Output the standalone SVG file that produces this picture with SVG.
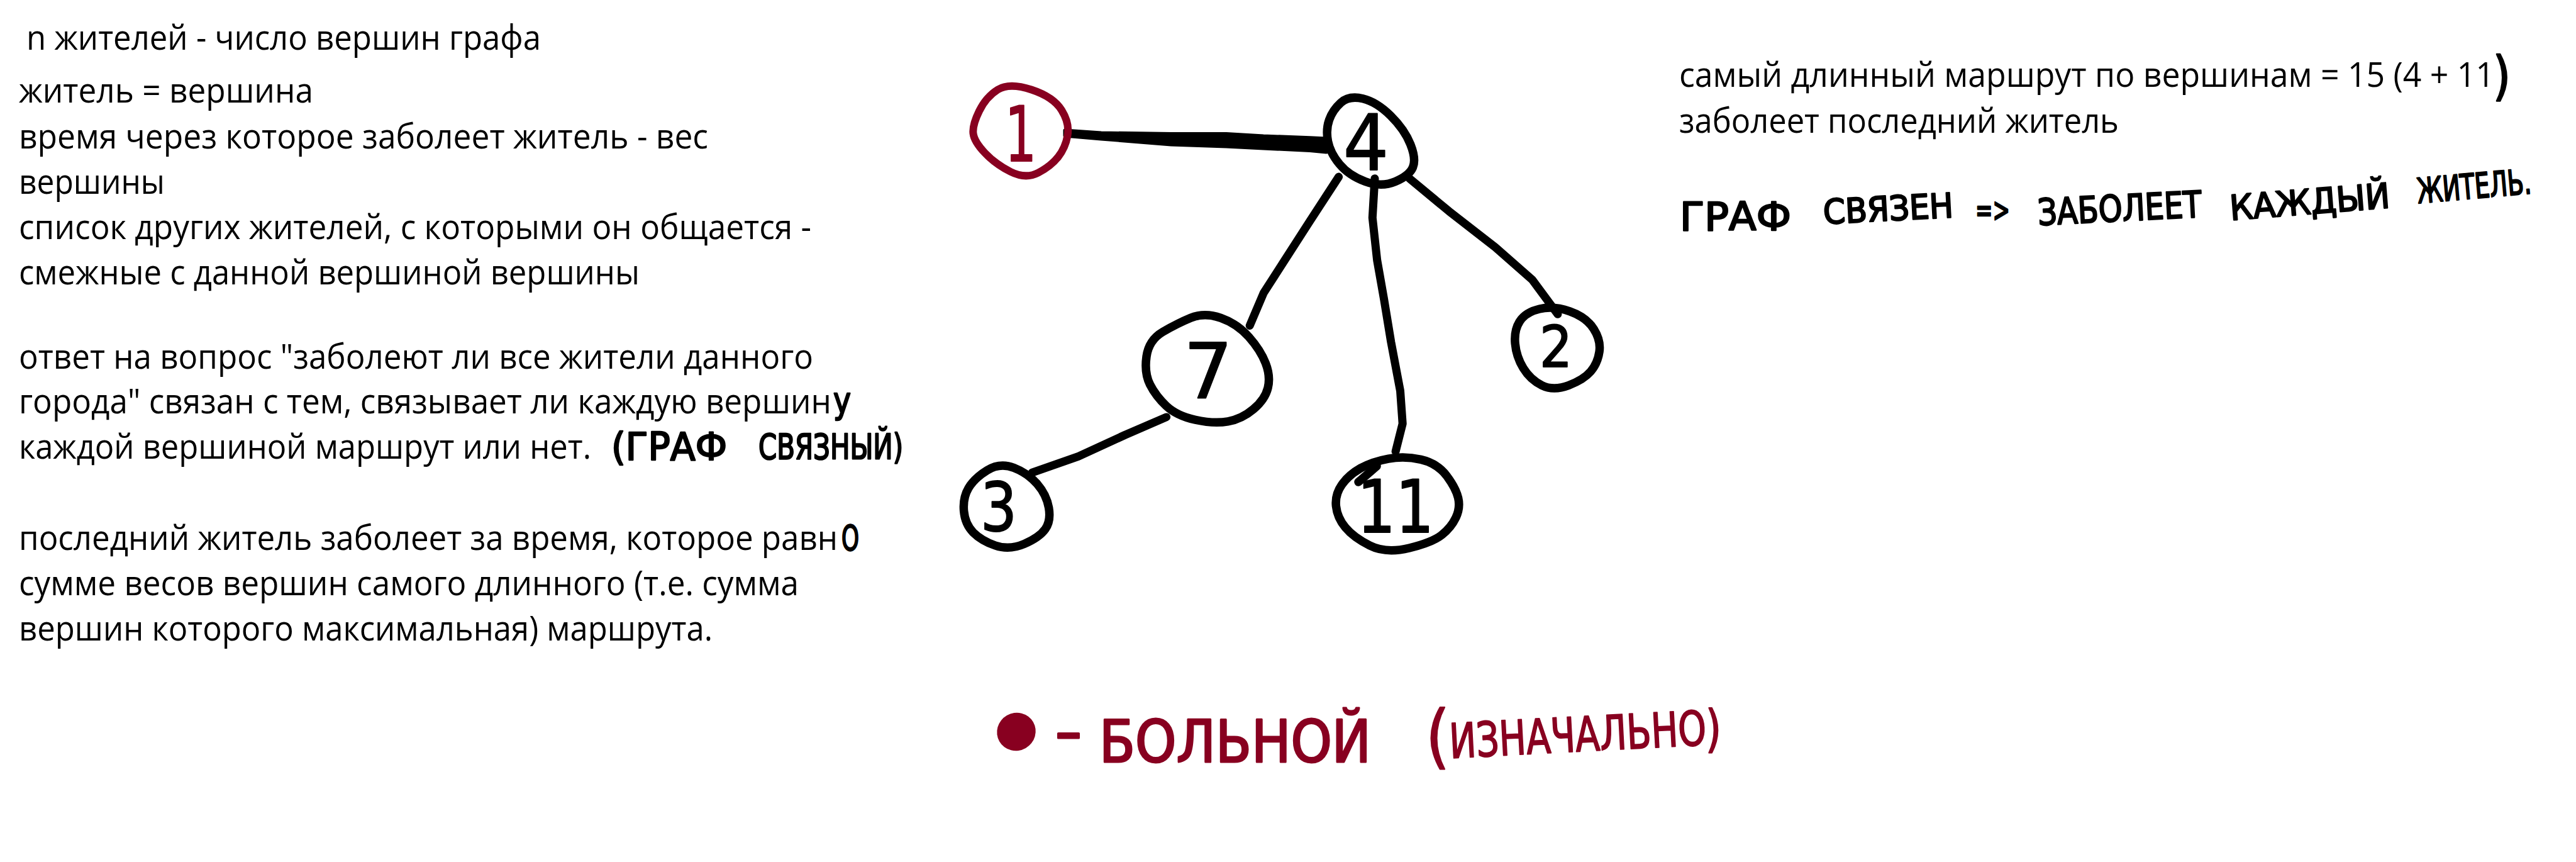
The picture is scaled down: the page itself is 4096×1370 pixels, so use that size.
<svg xmlns="http://www.w3.org/2000/svg" width="4096" height="1370" viewBox="0 0 4096 1370">
<style>
.body{font-family:"Open Sans","Noto Sans",sans-serif;font-size:54px;fill:#000}
.hw{font-family:"DejaVu Sans",sans-serif;fill:#000;stroke:#000;stroke-width:2.5;stroke-linejoin:round}
.hwr{font-family:"DejaVu Sans",sans-serif;fill:#880020;stroke:#880020;stroke-width:3;stroke-linejoin:round}
.ring{fill:none;stroke:#000;stroke-width:13.5;stroke-linejoin:round;stroke-linecap:round}
.ringr{fill:none;stroke:#880020;stroke-width:12;stroke-linejoin:round;stroke-linecap:round}
.edge{fill:none;stroke:#000;stroke-width:13;stroke-linejoin:round;stroke-linecap:round}
.lbl{font-family:"DejaVu Sans",sans-serif;text-anchor:middle;fill:#000;stroke:#000;stroke-width:2;stroke-linejoin:round}
</style>
<rect width="4096" height="1370" fill="#fff"/>

<g id="notes-left">
<text class="body" x="42" y="79" textLength="818" lengthAdjust="spacingAndGlyphs">n жителей - число вершин графа</text>
<text class="body" x="30" y="163" textLength="468" lengthAdjust="spacingAndGlyphs">житель = вершина</text>
<text class="body" x="30" y="236" textLength="1096" lengthAdjust="spacingAndGlyphs">время через которое заболеет житель - вес</text>
<text class="body" x="30" y="308" textLength="232" lengthAdjust="spacingAndGlyphs">вершины</text>
<text class="body" x="30" y="380" textLength="1260" lengthAdjust="spacingAndGlyphs">список других жителей, с которыми он общается -</text>
<text class="body" x="30" y="452" textLength="987" lengthAdjust="spacingAndGlyphs">смежные с данной вершиной вершины</text>
<text class="body" x="30" y="586" textLength="1263" lengthAdjust="spacingAndGlyphs">ответ на вопрос "заболеют ли все жители данного</text>
<text class="body" x="30" y="657" textLength="1292" lengthAdjust="spacingAndGlyphs">города" связан с тем, связывает ли каждую вершин</text>
<text class="hw" x="1325" y="656" font-size="57" textLength="28" lengthAdjust="spacingAndGlyphs">у</text>
<text class="body" x="30" y="729" textLength="910" lengthAdjust="spacingAndGlyphs">каждой вершиной маршрут или нет.</text>
<text class="hw" x="972" y="731" font-size="60" textLength="184" lengthAdjust="spacingAndGlyphs">(ГРАФ</text>
<text class="hw" x="1206" y="729" font-size="55" textLength="230" lengthAdjust="spacingAndGlyphs">СВЯЗНЫЙ)</text>
<text class="body" x="30" y="874" textLength="1302" lengthAdjust="spacingAndGlyphs">последний житель заболеет за время, которое равн</text>
<text class="hw" x="1338" y="874" font-size="55" textLength="28" lengthAdjust="spacingAndGlyphs">О</text>
<text class="body" x="30" y="946" textLength="1240" lengthAdjust="spacingAndGlyphs">сумме весов вершин самого длинного (т.е. сумма</text>
<text class="body" x="30" y="1018" textLength="1103" lengthAdjust="spacingAndGlyphs">вершин которого максимальная) маршрута.</text>
</g>

<g id="notes-right">
<text class="body" x="2670" y="138" textLength="1296" lengthAdjust="spacingAndGlyphs">самый длинный маршрут по вершинам = 15 (4 + 11</text>
<text class="hw" x="3964" y="150" font-size="84" textLength="28" lengthAdjust="spacingAndGlyphs">)</text>
<text class="body" x="2670" y="211" textLength="699" lengthAdjust="spacingAndGlyphs">заболеет последний житель</text>
<text class="hw" x="2671" y="366" font-size="62" textLength="177" lengthAdjust="spacingAndGlyphs">ГРАФ</text>
<text class="hw" x="2900" y="356" font-size="54" textLength="207" lengthAdjust="spacingAndGlyphs" transform="rotate(-3 2900 356)">СВЯЗЕН</text>
<text class="hw" x="3141" y="352" font-size="54" textLength="55" lengthAdjust="spacingAndGlyphs">=&gt;</text>
<text class="hw" x="3241" y="358" font-size="58" textLength="261" lengthAdjust="spacingAndGlyphs" transform="rotate(-2.9 3241 358)">ЗАБОЛЕЕТ</text>
<text class="hw" x="3547" y="350" font-size="55" textLength="255" lengthAdjust="spacingAndGlyphs" transform="rotate(-4.5 3547 350)">КАЖДЫЙ</text>
<text class="hw" x="3845" y="323" font-size="55" textLength="182" lengthAdjust="spacingAndGlyphs" transform="rotate(-5 3845 323)">ЖИТЕЛЬ.</text>
</g>

<g id="connectors">
<path id="edge-1-4" d="M1693,207 L1751,211 L1862,212.5 L1950,212.5 L2009,216 L2083,218.7 L2109,220 L2109,242 L2083,239.5 L2009,236 L1950,233 L1862,230 L1751,221 L1693,216 Z" fill="#000" stroke="#000" stroke-width="5" stroke-linejoin="round"/>
<path id="edge-4-7" class="edge" d="M2128.6,281.1 L2082.9,351.2 L2009.3,465.5 L1987.2,517.5"/>
<path id="edge-4-11" class="edge" d="M2186,283.7 L2182.3,346 L2189.7,413.5 L2200.7,475.9 L2211.8,543.4 L2226.5,621.3 L2230.2,673.3 L2219.1,717.5"/>
<path id="edge-4-2" class="edge" d="M2241.2,283.7 L2303.8,335.6 L2377.5,392.8 L2436.4,444.7 L2476.9,499.3"/>
<path id="edge-7-3" class="edge" d="M1854.6,662.9 L1788.4,691.5 L1714.7,725.3 L1641.1,751.2"/>
</g>

<g id="node-1">
<path class="ringr" d="M1640,142.5 Q1675,154 1688,175 Q1701,196 1697.5,215.5 Q1694,235 1682.5,249.5 Q1671,264 1651,274.5 Q1631,285 1607,273 Q1583,261 1566,243 Q1549,225 1547.5,212 Q1546,199 1557,176.5 Q1568,154 1586.5,142.5 Q1605,131 1640,142.5 Z"/>
<text class="lbl" x="1623" y="256" font-size="122" textLength="50" lengthAdjust="spacingAndGlyphs" style="fill:#880020;stroke:#880020">1</text>
</g>

<g id="node-4">
<path class="ring" d="M2167,156.75 Q2189,162 2211.25,184 Q2233.5,206 2242.75,229.5 Q2252,253 2246.5,266 Q2241,279 2218.75,288.5 Q2196.5,298 2170.75,288.5 Q2145,279 2130,261 Q2115,243 2111.5,224.5 Q2108,206 2113.5,190.5 Q2119,175 2132,163.25 Q2145,151.5 2167,156.75 Z"/>
<text class="lbl" x="2172" y="270" font-size="123" textLength="72" lengthAdjust="spacingAndGlyphs">4</text>
</g>

<g id="node-7">
<path class="ring" d="M1941.3,505.35 Q1967.2,514.5 1985.7,535.4 Q2004.2,556.3 2012.35,577.15 Q2020.5,598 2016.05,616.3 Q2011.6,634.6 1993.1,650.25 Q1974.6,665.9 1952.4,669.85 Q1930.2,673.8 1900.6,667.25 Q1871,660.7 1854.4,645.05 Q1837.8,629.4 1828.55,611.1 Q1819.3,592.8 1823,566.7 Q1826.7,540.6 1848.85,527.55 Q1871,514.5 1893.2,505.35 Q1915.4,496.2 1941.3,505.35 Z"/>
<text class="lbl" x="1921" y="632" font-size="122">7</text>
</g>

<g id="node-2">
<path class="ring" d="M2496.1,494.9 Q2522,504 2533.85,522.3 Q2545.7,540.6 2543.1,558.9 Q2540.5,577.2 2529.4,590.25 Q2518.3,603.3 2494.25,612.45 Q2470.2,621.6 2451.7,612.45 Q2433.2,603.3 2422.1,585 Q2411,566.7 2409.15,545.8 Q2407.3,524.9 2416.55,510.55 Q2425.8,496.2 2448,491 Q2470.2,485.8 2496.1,494.9 Z"/>
<text class="lbl" x="2474" y="583" font-size="90" textLength="52" lengthAdjust="spacingAndGlyphs">2</text>
</g>

<g id="node-3">
<path class="ring" d="M1612.15,743.5 Q1634.3,752.1 1649.15,769.1 Q1664,786.1 1667.65,806.95 Q1671.3,827.8 1662.05,840.9 Q1652.8,854 1628.8,864.4 Q1604.8,874.8 1582.6,867 Q1560.4,859.2 1547.45,846.15 Q1534.5,833.1 1532.65,812.2 Q1530.8,791.3 1540.05,775.65 Q1549.3,760 1569.65,747.45 Q1590,734.9 1612.15,743.5 Z"/>
<text class="lbl" x="1588" y="843" font-size="107" textLength="58" lengthAdjust="spacingAndGlyphs">3</text>
</g>

<g id="node-11">
<path class="ring" d="M2259.4,730.4 Q2285.3,736.4 2300.1,756 Q2314.9,775.6 2318.6,791.3 Q2322.3,807 2314.9,822.65 Q2307.5,838.3 2292.7,850.05 Q2277.9,861.8 2240.9,870.95 Q2203.9,880.1 2178,867.05 Q2152.1,854 2139.2,838.3 Q2126.3,822.6 2124.4,804.35 Q2122.5,786.1 2133.6,770.4 Q2144.7,754.7 2163.2,744.25 Q2181.7,733.8 2207.6,729.1 Q2233.5,724.4 2259.4,730.4 Z"/>
<path class="ring" d="M2160,766 L2189,741"/>
<text class="lbl" x="2219" y="846" font-size="115" textLength="122" lengthAdjust="spacingAndGlyphs">11</text>
</g>

<g id="legend">
<ellipse cx="1616" cy="1163" rx="31" ry="30" transform="rotate(-30 1616 1163)" fill="#880020"/>
<text class="hwr" x="1677" y="1195" font-size="92" textLength="44" lengthAdjust="spacingAndGlyphs">-</text>
<text class="hwr" x="1748" y="1211" font-size="92" textLength="432" lengthAdjust="spacingAndGlyphs">БОЛЬНОЙ</text>
<text class="hwr" x="2267" y="1208" font-size="110" textLength="38" lengthAdjust="spacingAndGlyphs" style="stroke-width:2">(</text>
<text class="hwr" x="2306" y="1205" font-size="76" textLength="409" lengthAdjust="spacingAndGlyphs" transform="rotate(-3 2306 1205)" style="stroke-width:2">ИЗНАЧАЛЬНО</text>
<text class="hwr" x="2712" y="1186" font-size="80" textLength="25" lengthAdjust="spacingAndGlyphs" style="stroke-width:2">)</text>
</g>
</svg>
